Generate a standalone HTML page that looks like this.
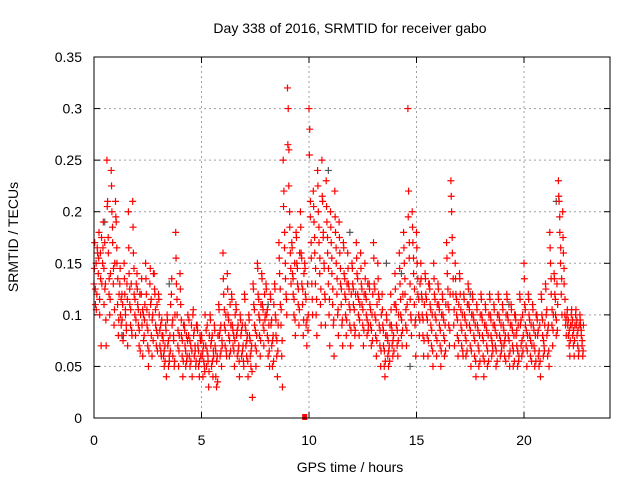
<!DOCTYPE html>
<html><head><meta charset="utf-8"><style>
body{margin:0;background:#fff}
svg{display:block;font-family:"Liberation Sans",sans-serif}
</style></head><body>
<svg id="chart" width="640" height="480">
<rect width="640" height="480" fill="#fff"/>
<text x="350" y="33" font-size="14" text-anchor="middle">Day 338 of 2016, SRMTID for receiver gabo</text>
<text x="350" y="472" font-size="14" text-anchor="middle">GPS time / hours</text>
<text x="18" y="237" font-size="14" text-anchor="middle" transform="rotate(-90 18 237)">SRMTID / TECUs</text>
<g id="grid"></g>
<g id="ticks"></g>
<g id="marks"></g>
<rect x="94" y="57" width="516" height="361" fill="none" stroke="#000" stroke-width="1"/>
</svg>
<script>
const xTicks=[0,5,10,15,20];
const yTicks=[0,0.05,0.1,0.15,0.2,0.25,0.3,0.35];
const yTickLabels=["0","0.05","0.1","0.15","0.2","0.25","0.3","0.35"];
const binHours=[];for(let i=0;i<114;i++)binHours.push(+(i*0.2).toFixed(1));
const srmtid=[
[.13,.17,.11,.15,.12,.16],[.14,.18,.10,.16,.07,.13],[.15,.19,.11,.17,.13,.07],[.25,.21,.16,.12,.10,.14],[.24,.20,.17,.13,.09,.15],
[.21,.19,.15,.11,.08,.12],[.13,.10,.09,.12,.11,.08],[.15,.12,.10,.09,.13,.07],[.20,.14,.11,.09,.13,.08],[.21,.16,.12,.10,.08,.13],
[.14,.11,.09,.07,.12,.10],[.12,.09,.06,.10,.08,.11],[.15,.12,.09,.07,.05,.10],[.13,.11,.08,.06,.10,.14],[.14,.12,.09,.07,.11,.08],
[.12,.10,.07,.09,.06,.08],[.08,.06,.05,.07,.09,.04],[.10,.07,.05,.06,.08,.11],[.12,.09,.06,.08,.05,.10],[.18,.13,.10,.07,.05,.08],
[.14,.11,.08,.06,.04,.09],[.09,.07,.05,.08,.06,.10],[.08,.06,.05,.07,.09,.04],[.10,.08,.06,.07,.05,.09],[.09,.07,.05,.04,.08,.06],
[.08,.06,.04,.07,.05,.10],[.07,.05,.09,.06,.03,.08],[.10,.07,.05,.08,.04,.06],[.09,.07,.04,.03,.06,.08],[.11,.08,.06,.09,.05,.07],
[.16,.12,.09,.07,.10,.06],[.14,.10,.08,.06,.11,.09],[.12,.09,.07,.08,.05,.10],[.11,.08,.06,.09,.07,.04],[.10,.08,.06,.09,.07,.05],
[.12,.09,.07,.06,.08,.04],[.10,.08,.06,.05,.07,.02],[.13,.11,.09,.07,.05,.08],[.15,.12,.10,.08,.06,.11],[.14,.11,.09,.07,.12,.10],
[.13,.10,.08,.06,.09,.05],[.12,.09,.07,.05,.08,.11],[.13,.10,.08,.06,.04,.09],[.17,.14,.11,.09,.06,.03],[.25,.22,.18,.15,.12,.10],
[.32,.30,.26,.20,.16,.13],[.17,.14,.12,.10,.15,.08],[.18,.15,.13,.11,.09,.16],[.20,.16,.13,.11,.08,.14],[.15,.12,.09,.07,.13,.10],
[.30,.28,.21,.17,.13,.10],[.22,.19,.16,.13,.10,.08],[.24,.20,.17,.14,.11,.09],[.25,.21,.18,.15,.12,.09],[.23,.19,.16,.13,.10,.07],
[.20,.17,.14,.11,.09,.06],[.22,.18,.15,.12,.10,.08],[.19,.16,.13,.11,.09,.07],[.17,.14,.12,.10,.08,.13],[.16,.13,.11,.09,.07,.12],
[.15,.13,.11,.09,.08,.12],[.17,.14,.12,.10,.08,.11],[.16,.13,.11,.09,.07,.12],[.15,.12,.10,.08,.13,.09],[.13,.11,.09,.07,.10,.12],
[.17,.13,.10,.08,.06,.11],[.15,.12,.09,.07,.05,.10],[.12,.09,.07,.05,.04,.08],[.10,.08,.06,.05,.07,.09],[.12,.09,.07,.06,.08,.11],
[.14,.11,.09,.07,.06,.10],[.16,.13,.10,.08,.07,.12],[.18,.15,.12,.09,.07,.11],[.30,.22,.17,.13,.10,.08],[.20,.17,.14,.11,.09,.06],
[.18,.15,.12,.10,.08,.13],[.15,.12,.10,.08,.06,.11],[.14,.12,.10,.08,.06,.13],[.13,.11,.09,.07,.10,.05],[.15,.12,.10,.08,.06,.11],
[.13,.11,.09,.07,.05,.10],[.12,.10,.08,.06,.09,.11],[.17,.14,.11,.09,.07,.12],[.23,.20,.16,.12,.09,.07],[.15,.12,.10,.08,.06,.11],
[.14,.12,.09,.07,.10,.06],[.12,.10,.08,.06,.09,.11],[.13,.11,.09,.07,.05,.10],[.12,.10,.08,.06,.09,.04],[.11,.09,.07,.05,.08,.10],
[.12,.10,.08,.06,.04,.09],[.11,.09,.07,.05,.08,.10],[.12,.10,.08,.06,.07,.09],[.11,.09,.07,.05,.08,.10],[.12,.10,.08,.06,.09,.07],
[.11,.09,.07,.06,.08,.10],[.12,.10,.08,.06,.05,.09],[.11,.09,.07,.05,.08,.10],[.10,.08,.07,.05,.09,.06],[.12,.09,.07,.06,.10,.08],
[.15,.11,.09,.07,.05,.08],[.12,.10,.08,.06,.09,.07],[.11,.09,.07,.05,.08,.10],[.10,.08,.06,.05,.09,.04],[.12,.10,.08,.06,.07,.09],
[.13,.10,.08,.06,.09,.05],[.18,.15,.12,.09,.07,.10],[.14,.12,.10,.08,.13,.11],[.23,.21,.18,.15,.12,.10],[.20,.16,.13,.10,.09,.08],
[.10,.09,.08,.07,.06,.09],[.10,.09,.08,.07,.06,.09],[.10,.09,.08,.07,.06,.09],[.10,.09,.08,.07,.06,.09]];
const srmtidB=[
[.145,.125,.105,.165],[.155,.115,.135,.175],[.165,.145,.125,.095],[.205,.175,.135,.115],[.225,.185,.145,.105],
[.195,.165,.135,.095],[.145,.115,.095,.075],[.135,.105,.085,.115],[.165,.125,.105,.085],[.185,.145,.115,.095],
[.125,.105,.085,.065],[.135,.105,.075,.095],[.135,.105,.085,.065],[.145,.115,.095,.075],[.125,.105,.085,.065],
[.115,.085,.065,.095],[.075,.065,.055,.085],[.095,.075,.055,.065],[.135,.095,.075,.055],[.155,.115,.085,.065],
[.125,.095,.075,.055],[.085,.065,.055,.075],[.095,.075,.055,.065],[.105,.085,.065,.055],[.085,.065,.055,.075],
[.075,.065,.055,.045],[.085,.065,.055,.045],[.095,.075,.055,.065],[.085,.065,.055,.035],[.105,.085,.065,.075],
[.135,.105,.085,.065],[.125,.095,.075,.065],[.115,.085,.065,.075],[.105,.085,.065,.055],[.095,.085,.065,.055],
[.115,.085,.075,.055],[.095,.075,.065,.045],[.125,.105,.085,.065],[.145,.115,.095,.075],[.135,.105,.085,.095],
[.125,.105,.075,.065],[.115,.095,.075,.055],[.125,.095,.075,.065],[.155,.125,.105,.075],[.205,.165,.135,.115],
[.265,.225,.185,.145],[.165,.135,.115,.095],[.175,.145,.125,.105],[.185,.155,.125,.095],[.145,.115,.095,.085],
[.255,.195,.155,.115],[.205,.175,.145,.115],[.225,.185,.155,.125],[.215,.175,.145,.115],[.205,.175,.145,.115],
[.185,.155,.125,.095],[.195,.165,.135,.105],[.175,.145,.125,.095],[.165,.135,.115,.095],[.145,.125,.105,.085],
[.145,.125,.105,.085],[.155,.135,.115,.095],[.145,.125,.105,.085],[.135,.115,.095,.085],[.125,.105,.085,.075],
[.155,.125,.095,.075],[.135,.115,.085,.065],[.105,.085,.065,.055],[.095,.075,.065,.055],[.105,.085,.075,.065],
[.125,.105,.085,.075],[.145,.115,.095,.085],[.165,.135,.105,.085],[.195,.155,.115,.095],[.185,.155,.125,.095],
[.165,.135,.115,.095],[.135,.115,.095,.075],[.135,.115,.095,.075],[.125,.105,.085,.065],[.135,.115,.095,.075],
[.125,.105,.085,.065],[.115,.095,.075,.065],[.155,.125,.105,.085],[.215,.175,.135,.105],[.135,.115,.095,.075],
[.135,.105,.085,.065],[.115,.095,.075,.065],[.125,.105,.085,.065],[.115,.095,.075,.055],[.105,.085,.065,.055],
[.115,.095,.075,.055],[.105,.085,.065,.055],[.115,.095,.075,.065],[.105,.085,.065,.055],[.115,.095,.075,.065],
[.105,.085,.075,.055],[.115,.095,.075,.065],[.105,.085,.065,.055],[.095,.085,.065,.055],[.115,.095,.075,.065],
[.135,.105,.085,.065],[.115,.095,.075,.055],[.105,.085,.065,.055],[.095,.085,.065,.055],[.115,.095,.075,.065],
[.125,.105,.085,.065],[.165,.135,.105,.085],[.135,.115,.095,.085],[.215,.195,.165,.135],[.175,.145,.115,.095],
[.105,.095,.085,.075],[.105,.095,.085,.075],[.105,.095,.085,.065],[.095,.085,.075,.065]];
const grayHours=[0.5,1.3,3.5,8.1,10.9,11.9,13.6,14.3,14.7,17.5,19.3,21.5];
const grayValues=[.19,.08,.13,.11,.24,.18,.15,.14,.05,.12,.11,.21];
const zeroHours=[9.8];
const zeroValues=[0];

const NS="http://www.w3.org/2000/svg";
const X0=94,X1=610,Y0=418,Y1=57,XMAX=24,YMAX=0.35;
function xs(t){return X0+t/XMAX*(X1-X0);}
function ys(v){return Y0-v/YMAX*(Y0-Y1);}
const grid=document.getElementById('grid'),ticks=document.getElementById('ticks'),marks=document.getElementById('marks');
function mk(tag,attrs,parent){const e=document.createElementNS(NS,tag);for(const k in attrs)e.setAttribute(k,attrs[k]);parent.appendChild(e);return e;}
xTicks.forEach(t=>{
  const x=xs(t);
  if(t>0){const g=mk('line',{x1:x,x2:x,y1:Y0,y2:Y1,stroke:'#a0a0a0','stroke-dasharray':'2,3'},grid);
  
  }
  mk('line',{x1:x,x2:x,y1:Y0,y2:Y0-6,stroke:'#000'},ticks);
  mk('line',{x1:x,x2:x,y1:Y1,y2:Y1+6,stroke:'#000'},ticks);
  const l=mk('text',{x:x,y:445,'font-size':14,'text-anchor':'middle'},ticks);l.textContent=t;
  
  
});
yTicks.forEach((v,i)=>{
  const y=ys(v);
  if(v>0&&v<YMAX){const g=mk('line',{x1:X0,x2:X1,y1:y,y2:y,stroke:'#a0a0a0','stroke-dasharray':'2,3'},grid);
  
  }
  mk('line',{x1:X0,x2:X0+6,y1:y,y2:y,stroke:'#000'},ticks);
  mk('line',{x1:X1,x2:X1-6,y1:y,y2:y,stroke:'#000'},ticks);
  const l=mk('text',{x:82,y:y+5,'font-size':14,'text-anchor':'end'},ticks);l.textContent=yTickLabels[i];
  
  
});
function cross(t,v,color){
  const x=xs(t),y=ys(v);
  const p=mk('path',{d:`M${x-3.5} ${y}H${x+3.5}M${x} ${y-3.5}V${y+3.5}`,stroke:color,'stroke-width':1.2,fill:'none'},marks);
  
  
}
grayHours.forEach((t,i)=>cross(t,grayValues[i],'#555'));
binHours.forEach((t,i)=>{(srmtid[i]||[]).forEach((v,j)=>cross(t+j*0.033,v,'#f00'));});
binHours.forEach((t,i)=>{(srmtidB[i]||[]).forEach((v,j)=>cross(t+0.016+j*0.045,v,'#f00'));});
zeroHours.forEach((t,i)=>{
  const r=mk('rect',{x:xs(t)-2.5,y:ys(zeroValues[i])-4,width:5,height:6,fill:'#f00'},marks);
  
  
});
</script>
</body></html>
